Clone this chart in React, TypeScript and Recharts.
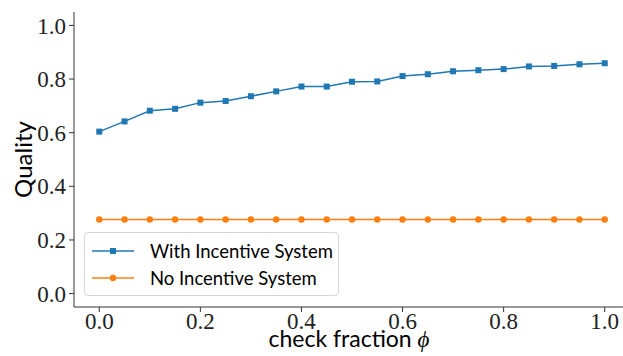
import { LineChart, Line, XAxis, YAxis, Legend } from 'recharts'

const checkFraction = [
  0, 0.05, 0.1, 0.15, 0.2, 0.25, 0.3, 0.35, 0.4, 0.45, 0.5, 0.55, 0.6, 0.65, 0.7, 0.75, 0.8, 0.85, 0.9, 0.95, 1.0,
]
const withIncentive = [
  0.604, 0.642, 0.682, 0.689, 0.712, 0.718, 0.736, 0.754, 0.772, 0.772, 0.79, 0.791, 0.811, 0.818, 0.829, 0.833,
  0.837, 0.847, 0.849, 0.855, 0.859,
]
const noIncentive = [
  0.276, 0.276, 0.276, 0.276, 0.276, 0.276, 0.276, 0.276, 0.276, 0.276, 0.276, 0.276, 0.276, 0.276, 0.276, 0.276,
  0.276, 0.276, 0.276, 0.276, 0.276,
]
const xTicks = [0, 0.2, 0.4, 0.6, 0.8, 1.0]
const yTicks = [0, 0.2, 0.4, 0.6, 0.8, 1.0]
const seriesOrder = ['withIncentive', 'noIncentive']

const BLUE = '#1f77b4'
const ORANGE = '#ff7f0e'
const SERIF = '"Liberation Serif", "DejaVu Serif", serif'
const SANS = 'Lato, "DejaVu Sans", sans-serif'

const data = checkFraction.map((x, i) => ({
  x,
  withIncentive: withIncentive[i],
  noIncentive: noIncentive[i],
}))

const SquareDot = (props: any) => {
  const { cx, cy, fill } = props
  if (cx == null || cy == null) return null
  return <rect x={cx - 3} y={cy - 3} width={6} height={6} fill={fill} />
}

const CircleDot = (props: any) => {
  const { cx, cy, fill } = props
  if (cx == null || cy == null) return null
  return <circle cx={cx} cy={cy} r={3.2} fill={fill} />
}

const YLabel = ({ viewBox }: any) => {
  const x = viewBox.x + 22
  const y = viewBox.y + viewBox.height / 2
  return (
    <text
      x={x}
      y={y}
      transform={`rotate(-90, ${x}, ${y})`}
      textAnchor="middle"
      dominantBaseline="central"
      fontFamily={SANS}
      fontSize={24}
      fill="#000"
    >
      Quality
    </text>
  )
}

const XLabel = ({ viewBox }: any) => {
  const x = viewBox.x + viewBox.width / 2 - 3
  const y = viewBox.y + 40
  return (
    <text x={x} y={y} textAnchor="middle" fontFamily={SANS} fontSize={23} fill="#000">
      check fraction{' '}
      <tspan fontFamily={SERIF} fontStyle="italic">
        ϕ
      </tspan>
    </text>
  )
}

const renderLegend = (props: any) => {
  const payload = [...props.payload].sort(
    (a: any, b: any) => seriesOrder.indexOf(a.dataKey) - seriesOrder.indexOf(b.dataKey),
  )
  return (
    <div
      style={{
        width: 255,
        height: 64,
        border: '1px solid #d6d6d6',
        borderRadius: 4,
        background: 'rgba(255,255,255,0.8)',
        boxSizing: 'border-box',
        paddingTop: 4,
        whiteSpace: 'nowrap',
      }}
    >
      {payload.map((entry: any) => (
        <div key={entry.value} style={{ display: 'flex', alignItems: 'center', height: 27.5 }}>
          <svg width={44} height={12} style={{ marginLeft: 6, flexShrink: 0 }}>
            <line x1={1} y1={6} x2={43} y2={6} stroke={entry.color} strokeWidth={1.5} />
            {entry.dataKey === 'withIncentive' ? (
              <rect x={19} y={3} width={6} height={6} fill={entry.color} />
            ) : (
              <circle cx={22} cy={6} r={3.2} fill={entry.color} />
            )}
          </svg>
          <span style={{ fontFamily: SANS, fontSize: 18.5, color: '#000', marginLeft: 15 }}>{entry.value}</span>
        </div>
      ))}
    </div>
  )
}

export default function App() {
  return (
    <div style={{ position: 'absolute', left: 0, top: 0, width: 623, height: 356, overflow: 'hidden', background: '#fff' }}>
      <LineChart width={640} height={356} data={data} margin={{ top: 12, right: 10, left: 0, bottom: 0 }}>
        <XAxis
          dataKey="x"
          type="number"
          domain={[-0.05, 1.05]}
          ticks={xTicks}
          tickFormatter={(v: number) => v.toFixed(1)}
          height={49}
          tickSize={5}
          tickMargin={1}
          axisLine={{ stroke: '#333', strokeWidth: 1 }}
          tickLine={{ stroke: '#333' }}
          tick={{ fill: '#222', fontFamily: SERIF, fontSize: 23 }}
          label={<XLabel />}
        />
        <XAxis
          xAxisId="top"
          dataKey="x"
          type="number"
          domain={[-0.05, 1.05]}
          orientation="top"
          height={0}
          tick={false}
          tickLine={false}
          axisLine={{ stroke: '#333', strokeWidth: 1 }}
        />
        <YAxis
          type="number"
          domain={[-0.05, 1.05]}
          ticks={yTicks}
          tickFormatter={(v: number) => v.toFixed(1)}
          width={74}
          tickSize={5}
          tickMargin={3}
          axisLine={{ stroke: '#333', strokeWidth: 1 }}
          tickLine={{ stroke: '#333' }}
          tick={{ fill: '#222', fontFamily: SERIF, fontSize: 23 }}
          label={<YLabel />}
        />
        <Legend
          layout="horizontal"
          verticalAlign="middle"
          align="center"
          content={renderLegend}
          wrapperStyle={{ left: 84, top: 232, width: 255 }}
        />
        <Line
          dataKey="withIncentive"
          name="With Incentive System"
          stroke={BLUE}
          strokeWidth={1.5}
          dot={<SquareDot fill={BLUE} />}
          activeDot={false}
          isAnimationActive={false}
        />
        <Line
          dataKey="noIncentive"
          name="No Incentive System"
          stroke={ORANGE}
          strokeWidth={1.5}
          dot={<CircleDot fill={ORANGE} />}
          activeDot={false}
          isAnimationActive={false}
        />
      </LineChart>
    </div>
  )
}
